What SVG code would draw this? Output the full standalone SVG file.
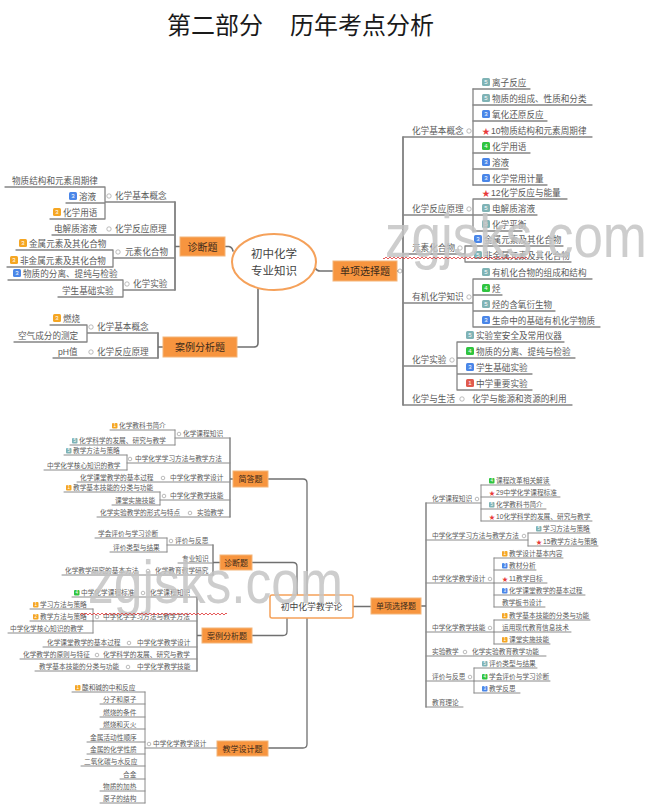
<svg xmlns="http://www.w3.org/2000/svg" width="653" height="810" viewBox="0 0 653 810">
<style>
text{font-family:"Liberation Sans","Noto Sans CJK SC",sans-serif}
.title{font-size:24px;fill:#1a1a1a}
.a{font-size:8.6px;fill:#5a5a5a}
.b{font-size:6.7px;fill:#5a5a5a}
.ln{stroke:#858585;stroke-width:1.3;fill:none;stroke-linecap:round}
.lb{stroke:#8a8a8a;stroke-width:1;fill:none;stroke-linecap:round}
.tr{stroke:#707070;stroke-width:1.6;fill:none;stroke-linecap:round}
.tb{stroke:#707070;stroke-width:1.3;fill:none;stroke-linecap:round}
.ob{fill:#f7953f;stroke:#f4b57a;stroke-width:1}
.ot{font-size:10px;fill:#3b2a1a;text-anchor:middle}
.ot2{font-size:8px;fill:#3b2a1a;text-anchor:middle}
.c{fill:#fff;stroke:#aaa;stroke-width:0.8}
.i5{fill:#7fb3b5}.i3{fill:#4a86e8}.i4{fill:#2fc43f}.io{fill:#f5a623}.ir{fill:#e05a4e}
.n{font-size:6px;fill:#fff;text-anchor:middle}
.nb{font-size:4.5px;fill:#fff;text-anchor:middle}
.st{font-size:8px;fill:#e83a3a}
.sb{font-size:6px;fill:#e83a3a}
.wm{font-size:62px;fill:#c4c4c4;fill-opacity:0.85}
</style>
<defs>
<pattern id="zz" width="4" height="4" patternUnits="userSpaceOnUse"><path d="M0 3 L2 1 L4 3" stroke="#e03030" stroke-width="0.8" fill="none"/></pattern>
</defs>
<rect width="653" height="810" fill="#fff"/>
<g id="title"><text class="title" x="167" y="34">第二部分</text><text class="title" x="290" y="34">历年考点分析</text></g>

<g id="connectors">
<path class="tr" d="M225 246.5 L229 246.5 Q232 247 233 251"/>
<path class="tr" d="M333 271 L320 271 Q317 271 315 268"/>
<path class="tr" d="M258 289 L258 343 Q258 347 254 347 L237 347"/>
<path class="tr" d="M397 271 H403 M403 137 V405"/>
<path class="tr" d="M175 202 V290 M175 246.5 H180"/>
<path class="tr" d="M158 333 V358 M158 347 H163"/>
<path class="tb" d="M268 479 H303 Q307 479 307 483 V744 Q307 748 303 748 H268"/>
<path class="tb" d="M252 562.5 H293 Q297 562.5 297 566.5 V595"/>
<path class="tb" d="M252 635.5 H283 Q287 635.5 287 631.5 V618"/>
<path class="tb" d="M353 606.5 H371"/>
<path class="tb" d="M421 606 H426 M426 503 V707"/>
<path class="tb" d="M230 438 V517 M230 479 H233"/>
<path class="tb" d="M213 545 V575 M213 562.5 H220"/>
<path class="tb" d="M197 597 V671 M197 635.5 H202"/>
</g>

<g id="n-zyzs"><ellipse cx="274" cy="262" rx="42" ry="28" fill="#fff" stroke="#f5a15a" stroke-width="2"/><text x="274" y="258" font-size="11.5" fill="#444" text-anchor="middle">初中化学</text><text x="274" y="275" font-size="11.5" fill="#444" text-anchor="middle">专业知识</text></g>
<g id="n-t-zdt"><rect class="ob" x="180" y="237" width="45" height="19"/><text class="ot" x="202.5" y="250.5">诊断题</text></g>
<g id="n-t-alfx"><rect class="ob" x="163" y="337" width="74" height="20"/><text class="ot" x="200" y="351">案例分析题</text></g>
<g id="n-t-dxxz"><rect class="ob" x="333" y="261" width="64" height="20"/><text class="ot" x="365" y="274.5">单项选择题</text><circle class="c" cx="400" cy="271" r="2"/></g>

<g id="t-r-jbgn">
<path class="ln" d="M403 137 H473 M473 89 V185"/>
<text class="a" x="412" y="133.5">化学基本概念</text><circle class="c" cx="469" cy="131" r="2.2"/>
<path class="ln" d="M473 89 H530 M473 105 H592 M473 121 H547 M473 137 H592 M473 153 H530 M473 169 H508 M473 185 H547"/>
<rect class="i5" x="482" y="78" width="8" height="8" rx="1.5"/><text class="n" x="486" y="84.2">5</text><text class="a" x="492" y="85.5">离子反应</text>
<rect class="i5" x="482" y="94" width="8" height="8" rx="1.5"/><text class="n" x="486" y="100.2">5</text><text class="a" x="492" y="101.5">物质的组成、性质和分类</text>
<rect class="i3" x="482" y="110" width="8" height="8" rx="1.5"/><text class="n" x="486" y="116.2">3</text><text class="a" x="492" y="117.5">氧化还原反应</text>
<text class="st" x="482" y="133.5">★</text><text class="a" x="491" y="133.5">10物质结构和元素周期律</text>
<rect class="i4" x="482" y="142" width="8" height="8" rx="1.5"/><text class="n" x="486" y="148.2">4</text><text class="a" x="492" y="149.5">化学用语</text>
<rect class="i3" x="482" y="158" width="8" height="8" rx="1.5"/><text class="n" x="486" y="164.2">3</text><text class="a" x="492" y="165.5">溶液</text>
<rect class="i3" x="482" y="174" width="8" height="8" rx="1.5"/><text class="n" x="486" y="180.2">3</text><text class="a" x="492" y="181.5">化学常用计量</text>
</g>
<g id="t-r-fyyl">
<path class="ln" d="M403 215 H473 M473 199 V231 M473 199 H567 M473 215 H537 M473 231 H522"/>
<text class="a" x="412" y="211.5">化学反应原理</text><circle class="c" cx="469" cy="209" r="2.2"/>
<text class="st" x="482" y="195.5">★</text><text class="a" x="491" y="195.5">12化学反应与能量</text>
<rect class="i5" x="482" y="204" width="8" height="8" rx="1.5"/><text class="n" x="486" y="210.2">5</text><text class="a" x="492" y="211.5">电解质溶液</text>
<rect class="i5" x="482" y="220" width="8" height="8" rx="1.5"/><text class="n" x="486" y="226.2">5</text><text class="a" x="492" y="227.5">化学平衡</text>
</g>
<g id="t-r-yshhw">
<path class="ln" d="M403 254 H465 M465 246 V262 M465 246 H563 M465 262 H571"/>
<text class="a" x="412" y="250.5">元素化合物</text><circle class="c" cx="460" cy="248" r="2.2"/>
<rect class="i3" x="474" y="235" width="8" height="8" rx="1.5"/><text class="n" x="478" y="241.2">3</text><text class="a" x="484" y="242.5">金属元素及其化合物</text>
<rect class="i5" x="474" y="251" width="8" height="8" rx="1.5"/><text class="n" x="478" y="257.2">5</text><text class="a" x="484" y="258.5">非金属元素及其化合物</text>
</g>
<g id="t-r-yjhx">
<path class="ln" d="M403 303 H473 M473 279 V327 M473 279 H592 M473 295 H502 M473 311 H555 M473 327 H600"/>
<text class="a" x="412" y="299.5">有机化学知识</text><circle class="c" cx="469" cy="297" r="2.2"/>
<rect class="i5" x="482" y="268" width="8" height="8" rx="1.5"/><text class="n" x="486" y="274.2">5</text><text class="a" x="492" y="275.5">有机化合物的组成和结构</text>
<rect class="i4" x="482" y="284" width="8" height="8" rx="1.5"/><text class="n" x="486" y="290.2">4</text><text class="a" x="492" y="291.5">烃</text>
<rect class="i5" x="482" y="300" width="8" height="8" rx="1.5"/><text class="n" x="486" y="306.2">5</text><text class="a" x="492" y="307.5">烃的含氧衍生物</text>
<rect class="i3" x="482" y="316" width="8" height="8" rx="1.5"/><text class="n" x="486" y="322.2">3</text><text class="a" x="492" y="323.5">生命中的基础有机化学物质</text>
</g>
<g id="t-r-hxsy">
<path class="ln" d="M403 366 H457 M457 342 V390 M457 342 H564 M457 358 H575 M457 374 H532 M457 390 H532"/>
<text class="a" x="412" y="362.5">化学实验</text><circle class="c" cx="452" cy="360" r="2.2"/>
<rect class="i5" x="466" y="331" width="8" height="8" rx="1.5"/><text class="n" x="470" y="337.2">5</text><text class="a" x="476" y="338.5">实验室安全及常用仪器</text>
<rect class="i4" x="466" y="347" width="8" height="8" rx="1.5"/><text class="n" x="470" y="353.2">4</text><text class="a" x="476" y="354.5">物质的分离、提纯与检验</text>
<rect class="i3" x="466" y="363" width="8" height="8" rx="1.5"/><text class="n" x="470" y="369.2">3</text><text class="a" x="476" y="370.5">学生基础实验</text>
<rect class="ir" x="466" y="379" width="8" height="8" rx="1.5"/><text class="n" x="470" y="385.2">1</text><text class="a" x="476" y="386.5">中学重要实验</text>
</g>
<g id="t-r-hxsh">
<path class="ln" d="M403 405 H572"/>
<text class="a" x="412" y="401.5">化学与生活</text><circle class="c" cx="462" cy="399" r="2.2"/><text class="a" x="472" y="401.5">化学与能源和资源的利用</text>
</g>

<g id="t-l-jbgn">
<path class="ln" d="M105 202 H175 M105 187 V219 M5 187 H105 M66 203 H105 M50 219 H105"/>
<text class="a" x="115" y="198.5">化学基本概念</text><circle class="c" cx="109" cy="196" r="2.2"/>
<text class="a" x="12" y="183.5">物质结构和元素周期律</text>
<rect class="i3" x="69" y="192" width="8" height="8" rx="1.5"/><text class="n" x="73" y="198.2">3</text><text class="a" x="79" y="199.5">溶液</text>
<rect class="io" x="53" y="208" width="8" height="8" rx="1.5"/><text class="n" x="57" y="214.2">3</text><text class="a" x="63" y="215.5">化学用语</text>
</g>
<g id="t-l-fyyl">
<path class="ln" d="M52 235 H175"/>
<text class="a" x="54" y="231.5">电解质溶液</text><circle class="c" cx="109" cy="229" r="2.2"/><text class="a" x="115" y="231.5">化学反应原理</text>
</g>
<g id="t-l-yshhw">
<path class="ln" d="M113 258 H175 M113 250 V267 M16 250 H113 M7 267 H113"/>
<text class="a" x="125" y="254.5">元素化合物</text><circle class="c" cx="118" cy="252" r="2.2"/>
<rect class="io" x="19" y="239" width="8" height="8" rx="1.5"/><text class="n" x="23" y="245.2">3</text><text class="a" x="29" y="246.5">金属元素及其化合物</text>
<rect class="io" x="10" y="256" width="8" height="8" rx="1.5"/><text class="n" x="14" y="262.2">3</text><text class="a" x="20" y="263.5">非金属元素及其化合物</text>
</g>
<g id="t-l-hxsy">
<path class="ln" d="M123 290 H175 M123 280 V297 M8 280 H123 M58 297 H123"/>
<text class="a" x="133" y="286.5">化学实验</text><circle class="c" cx="127" cy="284" r="2.2"/>
<rect class="i3" x="13" y="269" width="8" height="8" rx="1.5"/><text class="n" x="17" y="275.2">3</text><text class="a" x="23" y="276.5">物质的分离、提纯与检验</text>
<text class="a" x="62" y="293.5">学生基础实验</text>
</g>
<g id="t-l-al-jbgn">
<path class="ln" d="M87 333 H158 M87 325 V342 M50 325 H87 M14 342 H87"/>
<text class="a" x="97" y="329.5">化学基本概念</text><circle class="c" cx="91" cy="327" r="2.2"/>
<rect class="io" x="53" y="314" width="8" height="8" rx="1.5"/><text class="n" x="57" y="320.2">3</text><text class="a" x="63" y="321.5">燃烧</text>
<text class="a" x="18" y="338.5">空气成分的测定</text>
</g>
<g id="t-l-al-fyyl">
<path class="ln" d="M53 358 H158"/>
<text class="a" x="58" y="354.5">pH值</text><circle class="c" cx="91" cy="352" r="2.2"/><text class="a" x="97" y="354.5">化学反应原理</text>
</g>

<g id="n-jxl"><rect x="270" y="595" width="83" height="23" rx="2" fill="#fff" stroke="#f5a15a" stroke-width="1.5"/><text x="311.5" y="609.5" font-size="8.8" fill="#444" text-anchor="middle">初中化学教学论</text></g>
<g id="n-b-dxxz"><rect class="ob" x="371" y="598" width="50" height="16"/><text class="ot2" x="396" y="609">单项选择题</text></g>
<g id="n-b-jdt"><rect class="ob" x="233" y="471" width="35" height="16"/><text class="ot2" x="250.5" y="482">简答题</text></g>
<g id="n-b-zdt"><rect class="ob" x="220" y="555" width="32" height="15"/><text class="ot2" x="236" y="565.5">诊断题</text></g>
<g id="n-b-alfx"><rect class="ob" x="202" y="628" width="50" height="15"/><text class="ot2" x="227" y="638.5">案例分析题</text></g>
<g id="n-b-jxsj"><rect class="ob" x="217" y="741" width="51" height="15"/><text class="ot2" x="242.5" y="751.5">教学设计题</text></g>

<g id="b-jd-kczs">
<path class="lb" d="M175 438 H230 M175 430 V445 M110 430 H175 M70 445 H175"/>
<text class="b" x="183" y="435.5">化学课程知识</text><circle class="c" cx="179" cy="434" r="1.8"/>
<rect class="io" x="112" y="423" width="5.5" height="5.5" rx="1"/><text class="nb" x="114.8" y="427.2">1</text><text class="b" x="119" y="427.5">化学教科书简介</text>
<rect class="i5" x="72" y="438" width="5.5" height="5.5" rx="1"/><text class="nb" x="74.8" y="442.2">5</text><text class="b" x="79" y="442.5">化学科学的发展、研究与教学</text>
</g>
<g id="b-jd-xxff">
<path class="lb" d="M127 463 H230 M127 455 V470 M64 455 H127 M44 470 H127"/>
<text class="b" x="135" y="460.5">中学化学学习方法与教学方法</text><circle class="c" cx="130" cy="459" r="1.8"/>
<rect class="i5" x="66" y="448" width="5.5" height="5.5" rx="1"/><text class="nb" x="68.8" y="452.2">5</text><text class="b" x="73" y="452.5">教学方法与策略</text>
<text class="b" x="47" y="467.5">中学化学核心知识的教学</text>
</g>
<g id="b-jd-jxsj">
<path class="lb" d="M77 482 H230"/>
<text class="b" x="80" y="479.5">化学课堂教学的基本过程</text><circle class="c" cx="163" cy="478" r="1.8"/><text class="b" x="170" y="479.5">中学化学教学设计</text>
</g>
<g id="b-jd-jxjn">
<path class="lb" d="M160 500 H230 M160 492 V505 M64 492 H160 M112 505 H160"/>
<text class="b" x="170" y="497.5">中学化学教学技能</text><circle class="c" cx="164" cy="496" r="1.8"/>
<rect class="io" x="66" y="485" width="5.5" height="5.5" rx="1"/><text class="nb" x="68.8" y="489.2">1</text><text class="b" x="73" y="489.5">教学基本技能的分类与功能</text>
<text class="b" x="115" y="502.5">课堂实施技能</text>
</g>
<g id="b-jd-syjx">
<path class="lb" d="M97 517 H230"/>
<text class="b" x="100" y="514.5">化学实验教学的形式与特点</text><circle class="c" cx="190" cy="513" r="1.8"/><text class="b" x="197" y="514.5">实验教学</text>
</g>

<g id="b-zd-pj">
<path class="lb" d="M167 545 H213 M167 538 V552 M95 538 H167 M110 552 H167"/>
<text class="b" x="175" y="542.5">评价与反思</text><circle class="c" cx="171" cy="541" r="1.8"/>
<text class="b" x="98" y="535.5">学会评价与学习诊断</text>
<text class="b" x="113" y="549.5">评价类型与结果</text>
</g>
<g id="b-zd-zyzs"><path class="lb" d="M178 563 H213"/><text class="b" x="182" y="560.5">专业知识</text></g>
<g id="b-zd-yj">
<path class="lb" d="M62 575 H213"/>
<text class="b" x="65" y="572.5">化学教学研究的基本方法</text><circle class="c" cx="148" cy="571" r="1.8"/><text class="b" x="155" y="572.5">化学教育教学研究</text>
</g>

<g id="b-al-kcbz">
<path class="lb" d="M72 597 H197"/>
<rect class="i4" x="74" y="590" width="5.5" height="5.5" rx="1"/><text class="nb" x="76.8" y="594.2">4</text><text class="b" x="81" y="594.5">中学化学课程标准</text><circle class="c" cx="143" cy="593" r="1.8"/><text class="b" x="150" y="594.5">化学课程知识</text>
</g>
<g id="b-al-xxff">
<path class="lb" d="M93 621 H197 M93 609 V633 M30 609 H93 M30 621 H93 M8 633 H93"/>
<text class="b" x="103" y="618.5">中学化学学习方法与教学方法</text><circle class="c" cx="97" cy="617" r="1.8"/>
<rect class="io" x="33" y="602" width="5.5" height="5.5" rx="1"/><text class="nb" x="35.8" y="606.2">1</text><text class="b" x="40" y="606.5">学习方法与策略</text>
<rect class="io" x="33" y="614" width="5.5" height="5.5" rx="1"/><text class="nb" x="35.8" y="618.2">2</text><text class="b" x="40" y="618.5">教学方法与策略</text>
<text class="b" x="10" y="630.5">中学化学核心知识的教学</text>
</g>
<g id="b-al-jxsj">
<path class="lb" d="M43 647 H197"/>
<text class="b" x="47" y="644.5">化学课堂教学的基本过程</text><circle class="c" cx="129" cy="643" r="1.8"/><text class="b" x="137" y="644.5">中学化学教学设计</text>
</g>
<g id="b-al-yz">
<path class="lb" d="M20 659 H197"/>
<text class="b" x="23" y="656.5">化学教学的原则与特征</text><circle class="c" cx="97" cy="655" r="1.8"/><text class="b" x="103" y="656.5">化学科学的发展、研究与教学</text>
</g>
<g id="b-al-jn">
<path class="lb" d="M35 671 H197"/>
<text class="b" x="39" y="668.5">教学基本技能的分类与功能</text><circle class="c" cx="128" cy="667" r="1.8"/><text class="b" x="137" y="668.5">中学化学教学技能</text>
</g>

<g id="b-sj">
<path class="lb" d="M145 748 H217 M145 692 V803 M72 692 H145 M100 704 H145 M100 717 H145 M100 729 H145 M87 742 H145 M87 754 H145 M81 766 H145 M120 779 H145 M100 791 H145 M100 803 H145"/>
<text class="b" x="153" y="745.5">中学化学教学设计</text><circle class="c" cx="149" cy="744" r="1.8"/>
<rect class="io" x="75" y="685" width="5.5" height="5.5" rx="1"/><text class="nb" x="77.8" y="689.2">1</text><text class="b" x="82" y="689.5">酸和碱的中和反应</text>
<text class="b" x="103" y="701.5">分子和原子</text>
<text class="b" x="103" y="714.5">燃烧的条件</text>
<text class="b" x="103" y="726.5">燃烧和灭火</text>
<text class="b" x="90" y="739.5">金属活动性顺序</text>
<text class="b" x="90" y="751.5">金属的化学性质</text>
<text class="b" x="84" y="763.5">二氧化碳与水反应</text>
<text class="b" x="123" y="776.5">合金</text>
<text class="b" x="103" y="788.5">物质的加热</text>
<text class="b" x="103" y="800.5">原子的结构</text>
</g>

<g id="b-r-kczs">
<path class="lb" d="M426 503 H481 M481 485 V521 M481 485 H550 M481 497 H560 M481 509 H546 M481 521 H592"/>
<text class="b" x="432" y="500.5">化学课程知识</text><circle class="c" cx="477" cy="499" r="1.8"/>
<rect class="i4" x="489" y="478" width="5.5" height="5.5" rx="1"/><text class="nb" x="491.8" y="482.2">4</text><text class="b" x="496" y="482.5">课程改革相关解读</text>
<text class="sb" x="489" y="494.5">★</text><text class="b" x="496" y="494.5">29中学化学课程标准</text>
<rect class="i5" x="489" y="502" width="5.5" height="5.5" rx="1"/><text class="nb" x="491.8" y="506.2">5</text><text class="b" x="496" y="506.5">化学教科书简介</text>
<text class="sb" x="489" y="518.5">★</text><text class="b" x="496" y="518.5">10化学科学的发展、研究与教学</text>
</g>
<g id="b-r-xxff">
<path class="lb" d="M426 540 H528 M528 533 V546 M528 533 H590 M528 546 H598"/>
<text class="b" x="432" y="537.5">中学化学学习方法与教学方法</text><circle class="c" cx="524" cy="536" r="1.8"/>
<rect class="i5" x="536" y="526" width="5.5" height="5.5" rx="1"/><text class="nb" x="538.8" y="530.2">5</text><text class="b" x="543" y="530.5">学习方法与策略</text>
<text class="sb" x="536" y="543.5">★</text><text class="b" x="543" y="543.5">15教学方法与策略</text>
</g>
<g id="b-r-jxsj">
<path class="lb" d="M426 583 H494 M494 558 V607 M494 558 H563 M494 570 H536 M494 583 H547 M494 595 H585 M494 607 H545"/>
<text class="b" x="432" y="580.5">中学化学教学设计</text><circle class="c" cx="490" cy="579" r="1.8"/>
<rect class="io" x="502" y="551" width="5.5" height="5.5" rx="1"/><text class="nb" x="504.8" y="555.2">1</text><text class="b" x="509" y="555.5">教学设计基本内容</text>
<rect class="i3" x="502" y="563" width="5.5" height="5.5" rx="1"/><text class="nb" x="504.8" y="567.2">3</text><text class="b" x="509" y="567.5">教材分析</text>
<text class="sb" x="502" y="580.5">★</text><text class="b" x="509" y="580.5">11教学目标</text>
<rect class="i3" x="502" y="588" width="5.5" height="5.5" rx="1"/><text class="nb" x="504.8" y="592.2">3</text><text class="b" x="509" y="592.5">化学课堂教学的基本过程</text>
<text class="b" x="502" y="604.5">教学板书设计</text>
</g>
<g id="b-r-jxjn">
<path class="lb" d="M426 632 H494 M494 620 V644 M494 620 H590 M494 632 H571 M494 644 H550"/>
<text class="b" x="432" y="629.5">中学化学教学技能</text><circle class="c" cx="490" cy="628" r="1.8"/>
<rect class="io" x="502" y="613" width="5.5" height="5.5" rx="1"/><text class="nb" x="504.8" y="617.2">1</text><text class="b" x="509" y="617.5">教学基本技能的分类与功能</text>
<text class="b" x="502" y="629.5">运用现代教育信息技术</text>
<rect class="io" x="502" y="637" width="5.5" height="5.5" rx="1"/><text class="nb" x="504.8" y="641.2">1</text><text class="b" x="509" y="641.5">课堂实施技能</text>
</g>
<g id="b-r-syjx">
<path class="lb" d="M426 656 H546"/>
<text class="b" x="432" y="653.5">实验教学</text><circle class="c" cx="465" cy="652" r="1.8"/><text class="b" x="472" y="653.5">化学实验教育教学功能</text>
</g>
<g id="b-r-pj">
<path class="lb" d="M426 681 H474 M474 668 V693 M474 668 H537 M474 681 H550 M474 693 H520"/>
<text class="b" x="432" y="678.5">评价与反思</text><circle class="c" cx="470" cy="677" r="1.8"/>
<rect class="i5" x="482" y="661" width="5.5" height="5.5" rx="1"/><text class="nb" x="484.8" y="665.2">5</text><text class="b" x="489" y="665.5">评价类型与结果</text>
<rect class="i4" x="482" y="674" width="5.5" height="5.5" rx="1"/><text class="nb" x="484.8" y="678.2">4</text><text class="b" x="489" y="678.5">学会评价与学习诊断</text>
<rect class="i3" x="482" y="686" width="5.5" height="5.5" rx="1"/><text class="nb" x="484.8" y="690.2">3</text><text class="b" x="489" y="690.5">教学反思</text>
</g>
<g id="b-r-jyll"><path class="lb" d="M426 707 H463"/><text class="b" x="432" y="704.5">教育理论</text></g>

<g id="watermarks">
<text class="wm" x="385" y="257" textLength="262" lengthAdjust="spacingAndGlyphs">zgjsks.com</text>
<text class="wm" x="88" y="603" textLength="255" lengthAdjust="spacingAndGlyphs">zgjsks.com</text>
<rect x="383" y="257" width="145" height="4" fill="url(#zz)"/>
<rect x="80" y="612" width="147" height="4" fill="url(#zz)"/>
</g>
</svg>
